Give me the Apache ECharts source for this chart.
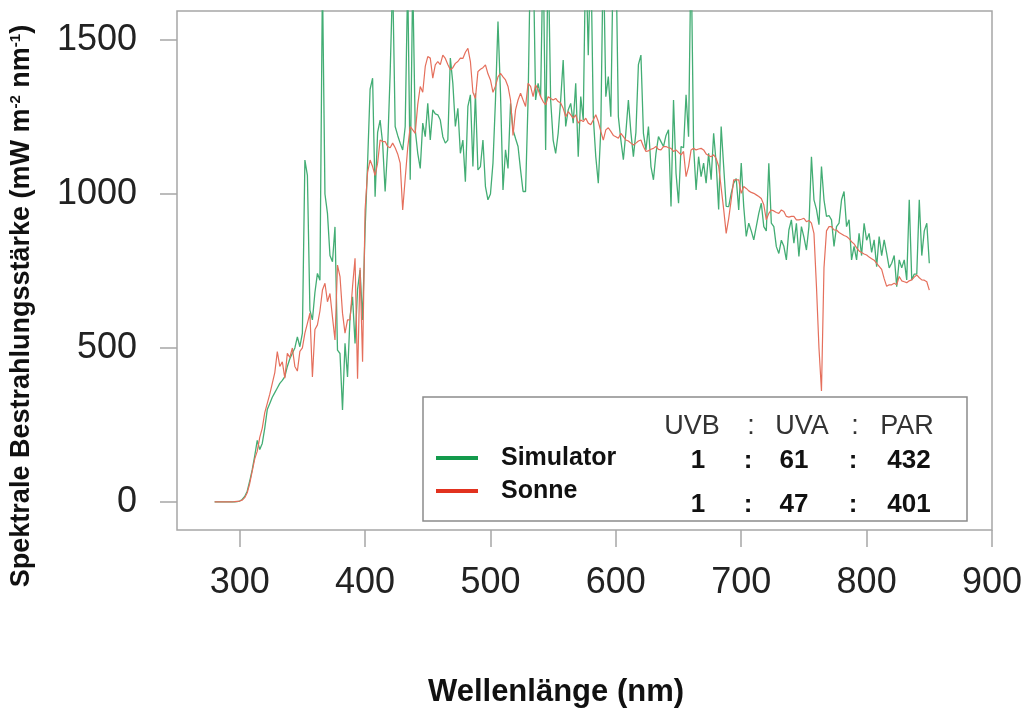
<!DOCTYPE html>
<html>
<head>
<meta charset="utf-8">
<script src="https://cdn.jsdelivr.net/npm/echarts@6/dist/echarts.min.js"></script>
<style>
html, body { margin: 0; padding: 0; background: #fff; }
#chart { width: 1029px; height: 711px; }
</style>
</head>
<body>
<div id="chart"></div>
<script>
// Wellenlänge (nm), 2-nm Raster
var wavelengths = [
  280,282,284,286,288,290,292,294,296,298,
  300,302,304,306,308,310,312,314,316,318,
  320,322,324,326,328,330,332,334,336,338,
  340,342,344,346,348,350,352,354,356,358,
  360,362,364,366,368,370,372,374,376,378,
  380,382,384,386,388,390,392,394,396,398,
  400,402,404,406,408,410,412,414,416,418,
  420,422,424,426,428,430,432,434,436,438,
  440,442,444,446,448,450,452,454,456,458,
  460,462,464,466,468,470,472,474,476,478,
  480,482,484,486,488,490,492,494,496,498,
  500,502,504,506,508,510,512,514,516,518,
  520,522,524,526,528,530,532,534,536,538,
  540,542,544,546,548,550,552,554,556,558,
  560,562,564,566,568,570,572,574,576,578,
  580,582,584,586,588,590,592,594,596,598,
  600,602,604,606,608,610,612,614,616,618,
  620,622,624,626,628,630,632,634,636,638,
  640,642,644,646,648,650,652,654,656,658,
  660,662,664,666,668,670,672,674,676,678,
  680,682,684,686,688,690,692,694,696,698,
  700,702,704,706,708,710,712,714,716,718,
  720,722,724,726,728,730,732,734,736,738,
  740,742,744,746,748,750,752,754,756,758,
  760,762,764,766,768,770,772,774,776,778,
  780,782,784,786,788,790,792,794,796,798,
  800,802,804,806,808,810,812,814,816,818,
  820,822,824,826,828,830,832,834,836,838,
  840,842,844,846,848,850
];

// Simulator (mW m-2 nm-1)
var simulator = [
  0,0,0,0,0,0,0,0,0,1,
  3,8,18,35,68,105,150,200,170,190,
  240,300,320,340,355,370,385,395,407,440,
  465,483,500,536,504,548,1110,1060,623,591,
  680,742,720,1700,1000,937,800,780,893,493,
  482,299,515,406,601,666,515,690,753,591,
  883,1100,1340,1376,991,1200,1240,1165,1008,1150,
  1392,1700,1219,1190,1165,1143,1219,1700,1046,1700,
  1208,1132,1083,1230,1186,1294,1175,1273,1260,1257,
  1240,1186,1165,1175,1441,1359,1219,1278,1132,1175,
  1040,1284,1322,1089,1327,1078,1089,1175,1024,981,
  1000,1100,1305,1560,1327,1013,1143,1083,1294,1208,
  1180,1154,1078,1008,1008,1305,1800,1800,1305,1359,
  1316,1800,1143,1800,1305,1175,1132,1197,1305,1435,
  1219,1273,1294,1230,1359,1121,1316,1240,1800,1450,
  1800,1251,1121,1035,1208,1800,1316,1381,1251,1800,
  1800,1251,1175,1111,1200,1305,1200,1121,1200,1420,
  1451,1197,1143,1219,1089,1046,1132,1186,1170,1154,
  1190,1208,959,1305,1067,970,1154,1150,1322,1186,
  1800,1154,1013,1121,1056,1100,1035,1132,1046,1197,
  1100,950,1219,1089,960,959,1002,1035,1050,948,
  1100,959,862,905,880,851,894,937,970,894,
  880,1100,905,894,829,807,850,830,786,883,
  916,840,905,797,894,860,818,894,1121,981,
  950,900,1089,981,927,930,916,830,894,905,
  981,1008,894,916,786,830,786,872,800,905,
  850,872,810,851,764,862,800,851,807,760,
  775,800,699,786,760,786,721,981,721,740,
  740,981,800,880,905,775
];

// Sonne (mW m-2 nm-1)
var sonne = [
  0,0,0,0,0,0,0,0,1,2,
  3,6,14,30,60,100,140,165,210,240,
  290,320,350,385,420,488,440,455,402,483,
  469,500,440,425,489,500,548,580,613,406,
  560,575,620,688,710,650,677,600,526,769,
  732,613,548,591,591,699,791,400,760,455,
  948,1070,1110,1089,1060,1100,1175,1170,1170,1154,
  1150,1165,1150,1130,1100,948,1050,1150,1219,1208,
  1197,1290,1349,1330,1414,1446,1441,1376,1419,1430,
  1420,1451,1440,1420,1403,1410,1424,1430,1441,1440,
  1460,1473,1430,1330,1310,1397,1405,1410,1419,1390,
  1370,1330,1350,1380,1392,1380,1370,1349,1305,1190,
  1273,1305,1327,1305,1284,1359,1349,1316,1354,1338,
  1316,1300,1289,1316,1310,1305,1310,1300,1295,1278,
  1251,1267,1257,1246,1257,1230,1240,1235,1246,1230,
  1225,1240,1257,1235,1203,1175,1208,1215,1203,1190,
  1186,1181,1197,1186,1175,1172,1165,1159,1165,1172,
  1175,1154,1138,1140,1145,1148,1154,1145,1143,1154,
  1154,1150,1148,1138,1143,1135,1127,1138,1056,1089,
  1143,1148,1143,1146,1148,1143,1130,1125,1121,1127,
  1115,1090,1020,950,872,920,981,1046,1046,1046,
  1002,1024,1018,1010,1005,1002,997,992,985,965,
  916,937,948,945,940,937,948,943,927,925,
  927,927,916,916,918,921,910,914,905,872,
  700,500,360,760,880,894,894,883,883,875,
  870,865,862,855,845,838,825,815,810,805,
  802,795,790,785,775,765,755,725,700,705,
  705,710,705,732,718,715,712,718,721,730,
  737,728,721,720,715,688
];

var xTicks = [300, 400, 500, 600, 700, 800, 900];
var yTicks = [0, 500, 1000, 1500];

// Verhältnisse UVB : UVA : PAR
var ratioHeader = ['UVB', ':', 'UVA', ':', 'PAR'];
var ratioSimulator = ['1', ':', '61', ':', '432'];
var ratioSonne = ['1', ':', '47', ':', '401'];

function pairs(xs, ys) {
  var out = [];
  for (var i = 0; i < xs.length; i++) out.push([xs[i], ys[i]]);
  return out;
}

var font = '"Liberation Sans", Arial, Helvetica, sans-serif';
var headerX = [692, 751, 802, 855, 907];
var numberX = [698, 748, 794, 853, 909];

function rowTexts(texts, xs, y, weight, size, color) {
  return texts.map(function (t, i) {
    return {
      type: 'text',
      x: xs[i],
      y: y,
      z: 10,
      style: {
        text: t,
        fontFamily: font,
        fontSize: size,
        fontWeight: weight,
        fill: color,
        align: 'center',
        verticalAlign: 'middle',
        textAlign: 'center',
        textVerticalAlign: 'middle'
      }
    };
  });
}

var chart = echarts.init(document.getElementById('chart'), null, { renderer: 'canvas' });

var graphics = [
  {
    type: 'rect',
    shape: { x: 423, y: 397, width: 544, height: 124 },
    style: { fill: '#fff', stroke: '#8c8c8c', lineWidth: 1.5 },
    z: 5
  },
  {
    type: 'text',
    x: 556,
    y: 692,
    style: {
      text: 'Wellenlänge (nm)',
      fontFamily: font,
      fontSize: 31,
      fontWeight: 'bold',
      fill: '#111',
      align: 'center',
      verticalAlign: 'middle',
      textAlign: 'center',
      textVerticalAlign: 'middle'
    }
  },
  {
    type: 'text',
    x: 22,
    y: 306,
    rotation: Math.PI / 2,
    style: {
      text: 'Spektrale Bestrahlungsstärke (mW m{sup|-2} nm{sup|-1})',
      fontFamily: font,
      fontSize: 27,
      fontWeight: 'bold',
      fill: '#111',
      align: 'center',
      verticalAlign: 'middle',
      textAlign: 'center',
      textVerticalAlign: 'middle',
      rich: {
        sup: { fontFamily: font, fontSize: 15, fontWeight: 'bold', fill: '#111', verticalAlign: 'top', padding: [0, 0, 12, 0] }
      }
    }
  }
];
graphics = graphics
  .concat(rowTexts(ratioHeader, headerX, 427, 'normal', 27, '#333'))
  .concat(rowTexts(ratioSimulator, numberX, 461, 'bold', 26, '#111'))
  .concat(rowTexts(ratioSonne, numberX, 505, 'bold', 26, '#111'));

var option = {
  backgroundColor: '#fff',
  animation: false,
  grid: {
    left: 177,
    top: 11,
    width: 815,
    height: 519,
    show: true,
    borderColor: '#a6a6a6',
    borderWidth: 1.5,
    containLabel: false,
    outerBoundsMode: 'none'
  },
  xAxis: {
    type: 'value',
    min: 250,
    max: 900,
    axisLine: { show: false, onZero: false },
    splitLine: { show: false },
    axisTick: {
      show: true,
      customValues: xTicks,
      length: 17,
      lineStyle: { color: '#a6a6a6', width: 1.5 }
    },
    axisLabel: {
      customValues: xTicks,
      margin: 35,
      fontFamily: font,
      fontSize: 36,
      color: '#222'
    }
  },
  yAxis: {
    type: 'value',
    min: -91,
    max: 1594,
    axisLine: { show: false, onZero: false },
    splitLine: { show: false },
    axisTick: {
      show: true,
      customValues: yTicks,
      length: 17,
      lineStyle: { color: '#a6a6a6', width: 1.5 }
    },
    axisLabel: {
      customValues: yTicks,
      margin: 40,
      fontFamily: font,
      fontSize: 36,
      color: '#222',
      formatter: function (v) { return String(v); }
    }
  },
  legend: {
    orient: 'vertical',
    left: 436,
    top: 445,
    padding: 0,
    itemGap: 7,
    icon: 'rect',
    itemWidth: 42,
    itemHeight: 4,
    z: 12,
    textStyle: {
      fontFamily: font,
      fontSize: 25,
      fontWeight: 'bold',
      color: '#111',
      lineHeight: 26,
      padding: [0, 0, 0, 18]
    },
    data: [
      { name: 'Simulator', itemStyle: { color: '#139a4c' } },
      { name: 'Sonne', itemStyle: { color: '#e2321f' } }
    ]
  },
  graphic: graphics,
  series: [
    {
      name: 'Simulator',
      type: 'line',
      data: pairs(wavelengths, simulator),
      showSymbol: false,
      symbol: 'none',
      clip: true,
      itemStyle: { color: '#139a4c' },
      lineStyle: { color: '#43ad74', width: 1.3 },
      z: 2
    },
    {
      name: 'Sonne',
      type: 'line',
      data: pairs(wavelengths, sonne),
      showSymbol: false,
      symbol: 'none',
      clip: true,
      itemStyle: { color: '#e2321f' },
      lineStyle: { color: '#e56f5c', width: 1.2 },
      z: 3
    }
  ]
};

chart.setOption(option);
</script>
</body>
</html>
